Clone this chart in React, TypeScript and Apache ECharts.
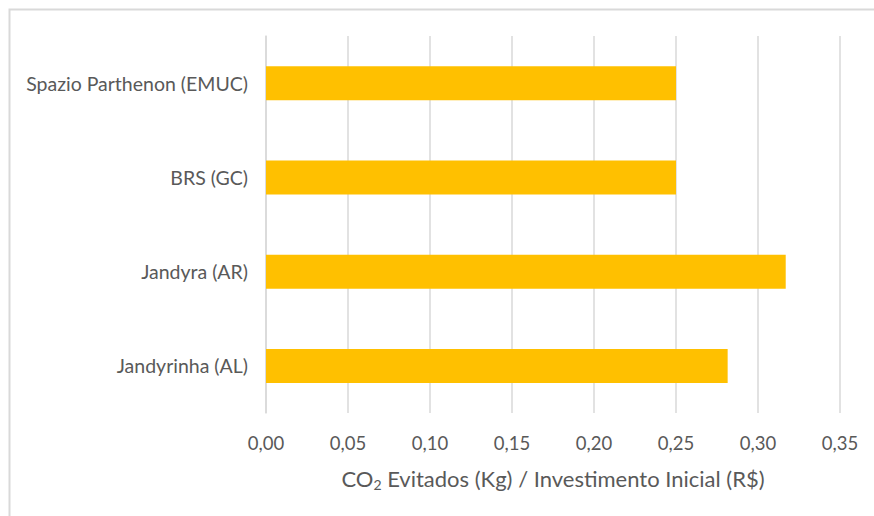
import React, { useEffect, useRef } from "react";
import * as echarts from "echarts";

const categories = ["Jandyrinha (AL)", "Jandyra (AR)", "BRS (GC)", "Spazio Parthenon (EMUC)"];
const values = [0.2815, 0.3169, 0.25, 0.25];
const xTicks = { min: 0, max: 0.35, interval: 0.05 };

export default function App() {
  const ref = useRef<HTMLDivElement>(null);
  useEffect(() => {
    const chart = echarts.init(ref.current!, null, { renderer: "svg" });
    const font = "Lato, 'Open Sans', sans-serif";
    chart.setOption({
      animation: false,
      backgroundColor: "#ffffff",
      graphic: [
        {
          type: "rect",
          shape: { x: 9.5, y: 9.5, width: 900, height: 600 },
          style: { fill: "none", stroke: "#d9d9d9", lineWidth: 2 },
          silent: true,
        },
      ],
      grid: { left: 266, right: 34, top: 36, bottom: 103, containLabel: false },
      xAxis: {
        type: "value",
        min: xTicks.min,
        max: xTicks.max,
        interval: xTicks.interval,
        axisLine: { show: false },
        axisTick: { show: false },
        splitLine: { show: true, lineStyle: { color: "#d9d9d9", width: 1.5 } },
        axisLabel: {
          color: "#595959",
          fontSize: 18.5,
          fontFamily: font,
          margin: 20,
          formatter: (v: number) => v.toFixed(2).replace(".", ","),
        },
        name: "CO{sub|2} Evitados (Kg) / Investimento Inicial (R$)",
        nameLocation: "middle",
        nameGap: 52,
        nameTextStyle: {
          color: "#595959",
          fontSize: 22,
          fontFamily: font,
          rich: {
            sub: { fontSize: 14, fontFamily: font, color: "#595959", verticalAlign: "bottom", padding: [12, 0, 0, 0] },
          },
        },
      },
      yAxis: {
        type: "category",
        data: categories,
        axisLine: { show: true, lineStyle: { color: "#d9d9d9", width: 1.5 } },
        axisTick: { show: false },
        axisLabel: { color: "#595959", fontSize: 19.5, fontFamily: font, margin: 18 },
      },
      series: [
        {
          type: "bar",
          data: values,
          barWidth: 34,
          itemStyle: { color: "#FFC000" },
        },
      ],
    });
    return () => chart.dispose();
  }, []);
  return (
    <div
      ref={ref}
      style={{ position: "fixed", left: 0, top: 0, width: 874, height: 516 }}
    />
  );
}
